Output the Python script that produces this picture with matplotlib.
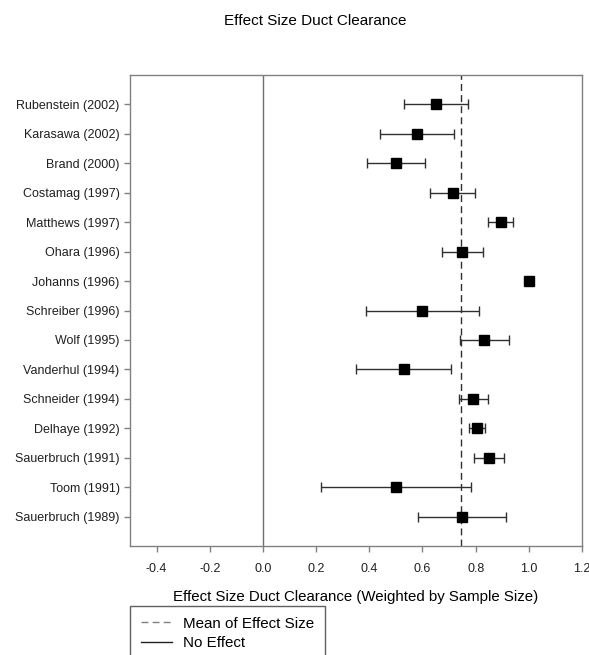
import numpy as np
import matplotlib.pyplot as plt
from matplotlib.lines import Line2D

# ---- data ----
studies = ["Rubenstein (2002)", "Karasawa (2002)", "Brand (2000)", "Costamag (1997)",
           "Matthews (1997)", "Ohara (1996)", "Johanns (1996)", "Schreiber (1996)",
           "Wolf (1995)", "Vanderhul (1994)", "Schneider (1994)", "Delhaye (1992)",
           "Sauerbruch (1991)", "Toom (1991)", "Sauerbruch (1989)"]
effect = [0.652, 0.580, 0.500, 0.714, 0.895, 0.749, 1.000, 0.600,
          0.832, 0.529, 0.791, 0.804, 0.851, 0.500, 0.749]
lower = [0.531, 0.441, 0.390, 0.630, 0.847, 0.672, np.nan, 0.387,
         0.743, 0.350, 0.738, 0.774, 0.793, 0.218, 0.585]
upper = [0.773, 0.717, 0.610, 0.799, 0.942, 0.827, np.nan, 0.813,
         0.926, 0.709, 0.847, 0.837, 0.908, 0.782, 0.915]
mean_effect = 0.744
xticks = [-0.4, -0.2, 0.0, 0.2, 0.4, 0.6, 0.8, 1.0, 1.2]

plt.rcParams['font.family'] = ['Liberation Sans', 'DejaVu Sans']

fig = plt.figure(figsize=(5.89, 6.55), dpi=100)
ax = fig.add_axes([130 / 589, 1 - 546 / 655, 452 / 589, 471 / 655])

pos = np.arange(1, len(studies) + 1)
eff = np.array(effect)
lo = np.array(lower)
hi = np.array(upper)
ok = ~np.isnan(lo)

ax.axvline(0, color='#707070', lw=1, zorder=1)
ax.axvline(mean_effect, color='#303030', lw=1, ls=(0, (5, 3)), zorder=1)

ax.errorbar(eff[ok], pos[ok], xerr=[eff[ok] - lo[ok], hi[ok] - eff[ok]],
            fmt='none', ecolor='#303030', elinewidth=1, capsize=3.5, capthick=1, zorder=2)
ax.plot(eff, pos, 's', color='black', markersize=6.8, zorder=3)

ax.set_xlim(-0.5, 1.2)
ax.set_ylim(len(studies) + 1, 0)
ax.set_yticks(pos)
ax.set_yticklabels(studies)
ax.set_xticks(xticks)
ax.set_xticklabels([f"{t:.1f}" for t in xticks])
ax.tick_params(axis='both', labelsize=9, colors='#808080', labelcolor='#202020',
               length=4, width=1)
ax.tick_params(axis='x', pad=8)
for s in ax.spines.values():
    s.set_color('#808080')
    s.set_linewidth(1)

ax.set_xlabel("Effect Size Duct Clearance (Weighted by Sample Size)", fontsize=10.8,
              labelpad=11)
fig.text(315 / 589, 1 - 21 / 655, "Effect Size Duct Clearance", fontsize=11,
         ha='center', va='center')

handles = [Line2D([], [], color='#808080', lw=1, ls=(0, (5, 3))),
           Line2D([], [], color='#202020', lw=1)]
fig.legend(handles, ["Mean of Effect Size", "No Effect"], loc='upper left',
           bbox_to_anchor=(130 / 589, 1 - 606 / 655), fontsize=10.9,
           frameon=True, fancybox=False, edgecolor='#606060', framealpha=1,
           handlelength=2.1, handletextpad=0.7, borderpad=0.7, labelspacing=0.36,
           borderaxespad=0)

fig.savefig("out.png", dpi=100)
